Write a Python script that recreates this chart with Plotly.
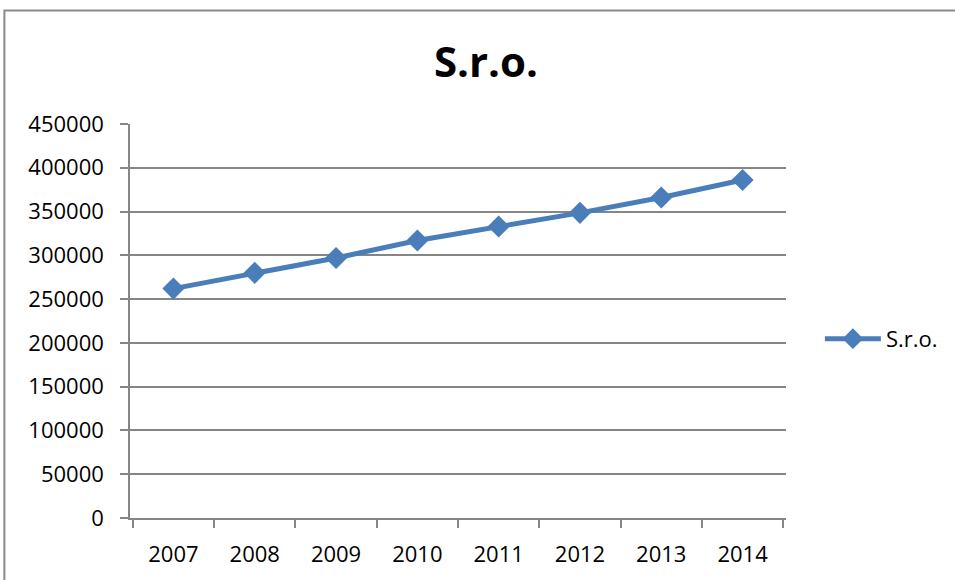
import plotly.graph_objects as go

years = ["2007", "2008", "2009", "2010", "2011", "2012", "2013", "2014"]
values = [262000, 280000, 297000, 317000, 333000, 348500, 366000, 386000]
y_ticks = [0, 50000, 100000, 150000, 200000, 250000, 300000, 350000, 400000, 450000]
series_name = "S.r.o."
title_text = "S.r.o."

fig = go.Figure()
fig.add_trace(go.Scatter(
    x=years, y=values, name=series_name, mode="lines+markers",
    line=dict(color="#4a7ebb", width=5),
    marker=dict(symbol="diamond", size=17, color="#4a7ebb"),
))

font_family = "Open Sans, Noto Sans, sans-serif"
fig.update_layout(
    width=955, height=580,
    margin=dict(l=130, r=167, t=124, b=60),
    paper_bgcolor="white", plot_bgcolor="white",
    title=dict(text="<b>" + title_text + "</b>", x=486 / 955, xanchor="center",
               y=1 - 62 / 580, yanchor="middle",
               font=dict(family=font_family, size=42, color="black")),
    font=dict(family=font_family, size=22, color="black"),
    showlegend=True,
    legend=dict(x=(822 - 130) / 658, xanchor="left", y=(520 - 340) / 396, yanchor="middle",
                itemwidth=56,
                font=dict(family=font_family, size=22, color="black"),
                bgcolor="rgba(0,0,0,0)"),
)
fig.update_xaxes(
    type="category", showgrid=False, showline=True, linecolor="#868686", linewidth=1.5,
    ticks="outside", tickson="boundaries", ticklen=8, tickcolor="#868686", tickwidth=1.5,
    ticklabelstandoff=16, tickfont=dict(size=22),
)
fig.update_yaxes(
    range=[0, 450000], tickvals=y_ticks, ticktext=[str(v) for v in y_ticks],
    showgrid=True, gridcolor="#868686", gridwidth=1.5,
    showline=True, linecolor="#868686", linewidth=1.5,
    ticks="outside", ticklen=8, tickcolor="#868686", tickwidth=1.5,
    ticklabelstandoff=12, zeroline=False, tickfont=dict(size=22),
)
fig.add_shape(type="rect", xref="paper", yref="paper",
              x0=(4 - 130) / 658, x1=2.0, y0=-1.0, y1=(520 - 10) / 396,
              line=dict(color="#8a8a8a", width=2), layer="below")
fig.write_html(
    "out.html",
    config={"displayModeBar": False},
    post_script="document.body.style.margin='0';document.body.style.overflow='hidden';",
)
